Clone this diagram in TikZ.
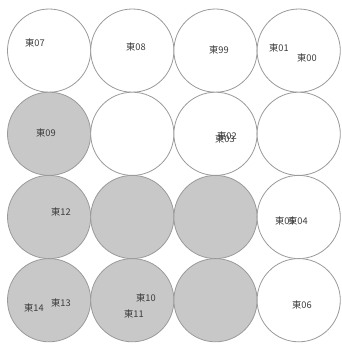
\documentclass[tikz,border=0pt]{standalone}
\usepackage{fontspec}
\newfontfamily\cjk{Noto Sans CJK SC}
\usetikzlibrary{positioning}
\definecolor{ring}{HTML}{9A9A9A}
\definecolor{shade}{HTML}{C8C8C8}
\definecolor{ink}{HTML}{3C3C3C}
\tikzset{
  cell/.style={draw=ring,line width=0.8bp,circle,fill=white,minimum size=83.2bp,inner sep=0pt,outer sep=0pt},
  taken/.style={cell,fill=shade},
  tag/.style={font=\cjk\fontsize{9.3}{10}\selectfont,text=ink,inner sep=0pt}
}
\begin{document}
\begin{tikzpicture}[x=1bp,y=-1bp]
\useasboundingbox (0,0) rectangle (342,347);
% grid of seats, row by row
\node[cell] (c11) at (49.1,50.6) {};
\node[cell,right=0pt of c11] (c12) {};
\node[cell,right=0pt of c12] (c13) {};
\node[cell,right=0pt of c13] (c14) {};
\node[taken,below=0pt of c11] (c21) {};
\node[cell,right=0pt of c21] (c22) {};
\node[cell,right=0pt of c22] (c23) {};
\node[cell,right=0pt of c23] (c24) {};
\node[taken,below=0pt of c21] (c31) {};
\node[taken,right=0pt of c31] (c32) {};
\node[taken,right=0pt of c32] (c33) {};
\node[cell,right=0pt of c33] (c34) {};
\node[taken,below=0pt of c31] (c41) {};
\node[taken,right=0pt of c41] (c42) {};
\node[taken,right=0pt of c42] (c43) {};
\node[cell,right=0pt of c43] (c44) {};
% labels
\node[tag] (t07) at (35,43) {東07};
\node[tag] (t08) at (136,47) {東08};
\node[tag] (t99) at (219,50) {東99};
\node[tag] (t01) at (279,48) {東01};
\node[tag] (t00) at (307,58) {東00};
\node[tag] (t09) at (46,133) {東09};
\node[tag] (t02) at (227,136) {東02};
\node[tag] (t03) at (225,139) {東03};
\node[tag] (t12) at (61,212) {東12};
\node[tag] (t05) at (285,221) {東05};
\node[tag] (t04) at (298,221) {東04};
\node[tag] (t14) at (34,308) {東14};
\node[tag] (t13) at (61,303) {東13};
\node[tag] (t10) at (146,298) {東10};
\node[tag] (t11) at (134,314) {東11};
\node[tag] (t06) at (302,305) {東06};
\end{tikzpicture}
\end{document}
